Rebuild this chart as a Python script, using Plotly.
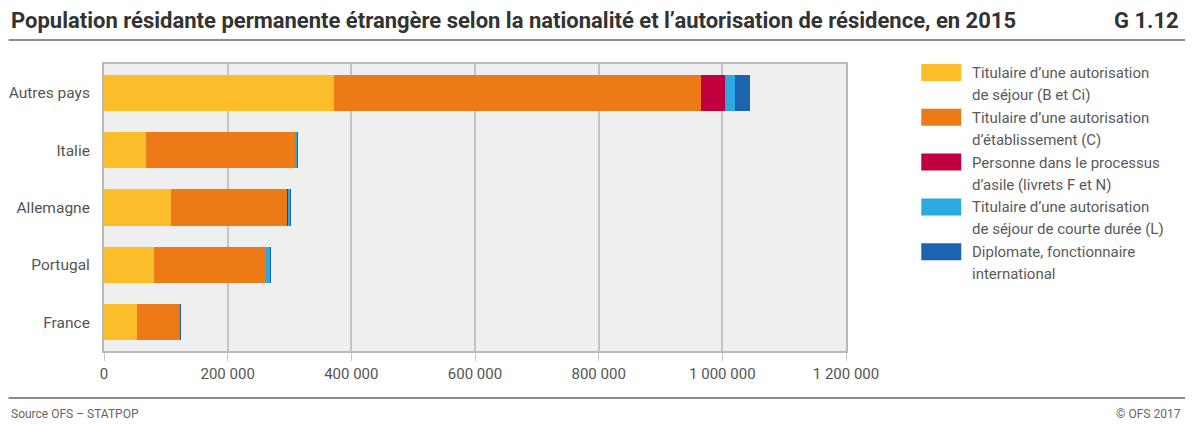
import plotly.graph_objects as go

# pays (de haut en bas)
pays = ["Autres pays", "Italie", "Allemagne", "Portugal", "France"]

sejour_B_Ci = [372300, 68600, 109000, 80400, 53600]
etablissement_C = [593800, 240700, 188500, 181600, 67800]
asile_F_N = [38700, 300, 200, 200, 200]
courte_duree_L = [15100, 3200, 3400, 7200, 2300]
diplomate = [25300, 100, 100, 100, 100]

series_names = [
    "Titulaire d’une autorisation<br>de séjour (B et Ci)",
    "Titulaire d’une autorisation<br>d’établissement (C)",
    "Personne dans le processus<br>d’asile (livrets F et N)",
    "Titulaire d’une autorisation<br>de séjour de courte durée (L)",
    "Diplomate, fonctionnaire<br>international",
]
series_values = [sejour_B_Ci, etablissement_C, asile_F_N, courte_duree_L, diplomate]
colors = ["#fbbd29", "#ed7a17", "#c0003f", "#2ba9e1", "#1c65ae"]

x_ticks = [0, 200000, 400000, 600000, 800000, 1000000, 1200000]

font = "Roboto, 'Open Sans', sans-serif"

# the page has an 8px body margin, so the figure is drawn 8px smaller
W, H = 1185, 418
PL, PR, PT, PB = 103.5, 845.7, 64, 351  # plot area in page pixels


def px(x):
    return (x - PL) / (PR - PL)


def py(y):
    return (PB - y) / (PB - PT)


fig = go.Figure()
for name, vals, col in zip(series_names, series_values, colors):
    fig.add_trace(go.Bar(
        y=pays, x=vals, name=name, orientation="h",
        marker=dict(color=col, line=dict(width=0)),
        showlegend=False,
    ))

# légende manuelle
for i, (name, col) in enumerate(zip(series_names, colors)):
    top = 64 + i * 44.8
    fig.add_shape(type="rect", xref="paper", yref="paper",
                  x0=px(921), x1=px(961), y0=py(top), y1=py(top + 17),
                  fillcolor=col, line=dict(width=0))
    for j, line in enumerate(name.split("<br>")):
        fig.add_annotation(xref="paper", yref="paper",
                           x=px(970), y=py(top + 9 + 22 * j),
                           text=line, showarrow=False, xanchor="left", yanchor="middle",
                           font=dict(family=font, size=15, color="#5a5a5a"))

# titre et pied
fig.add_annotation(xref="paper", yref="paper", x=px(8), y=py(21),
                   text="<b>Population résidante permanente étrangère selon la nationalité et l’autorisation de résidence, en 2015</b>",
                   showarrow=False, xanchor="left", yanchor="middle",
                   font=dict(family=font, size=22, color="#333333"))
fig.add_annotation(xref="paper", yref="paper", x=px(1181), y=py(21),
                   text="<b>G 1.12</b>", showarrow=False, xanchor="right", yanchor="middle",
                   font=dict(family=font, size=22, color="#333333"))
fig.add_annotation(xref="paper", yref="paper", x=px(8), y=py(414),
                   text="Source OFS – STATPOP", showarrow=False, xanchor="left", yanchor="middle",
                   font=dict(family=font, size=12, color="#666666"))
fig.add_annotation(xref="paper", yref="paper", x=px(1183), y=py(414),
                   text="© OFS 2017", showarrow=False, xanchor="right", yanchor="middle",
                   font=dict(family=font, size=12, color="#666666"))
for yy in [40, 398]:
    fig.add_shape(type="line", xref="paper", yref="paper",
                  x0=px(8), x1=px(1185), y0=py(yy), y1=py(yy),
                  line=dict(color="#8c8c8c", width=2))

fig.update_layout(
    barmode="stack",
    bargap=0.37,
    width=W, height=H,
    margin=dict(l=PL - 8, r=W - (PR - 8), t=PT - 8, b=H - (PB - 8)),
    paper_bgcolor="white",
    plot_bgcolor="#efefef",
    separators=", ",
    font=dict(family=font, size=15, color="#555555"),
    xaxis=dict(
        range=[0, 1200000], tickvals=x_ticks, tickformat=",d",
        showgrid=True, gridcolor="#c4c4c4", gridwidth=2,
        showline=True, linecolor="#b9b9b9", linewidth=2, mirror=True,
        ticks="outside", ticklen=8, tickcolor="#c4c4c4", tickwidth=1,
        tickfont=dict(size=15, color="#555555"),
        zeroline=False, fixedrange=True, automargin=False,
    ),
    yaxis=dict(
        categoryorder="array", categoryarray=pays[::-1],
        showline=True, linecolor="#b9b9b9", linewidth=2, mirror=True,
        ticks="", ticklabelstandoff=9,
        tickfont=dict(size=15.5, color="#555555"),
        showgrid=False, fixedrange=True, automargin=False,
    ),
)

fig.write_html("out.html")
